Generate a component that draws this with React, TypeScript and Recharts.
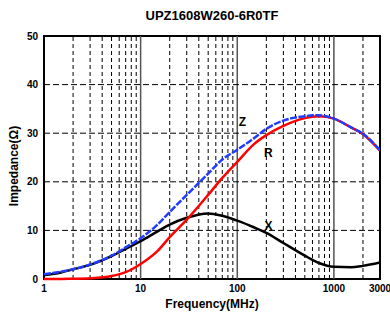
import React from 'react';
import { LineChart, Line, XAxis, YAxis, ReferenceLine, ReferenceArea, ReferenceDot } from 'recharts';

const freqs = [1, 1.5, 2, 3, 5, 7, 10, 15, 20, 30, 50, 70, 100, 150, 200, 300, 500, 700, 1000, 1500, 2000, 3000];
const zValues = [1.0, 1.5, 2.0, 3.0, 4.8, 6.5, 8.4, 11.2, 13.8, 17.3, 21.7, 24.6, 26.6, 29.0, 30.9, 32.6, 33.5, 33.7, 33.0, 31.2, 29.9, 26.5];
const rValues = [0.0, 0.02, 0.05, 0.15, 0.6, 1.4, 3.1, 5.8, 8.6, 12.2, 17.3, 20.8, 24.1, 27.8, 29.6, 31.5, 33.1, 33.5, 33.0, 31.2, 29.8, 26.4];
const xValues = [0.8, 1.35, 2.0, 2.9, 4.7, 6.2, 7.8, 9.8, 11.2, 12.6, 13.5, 13.0, 12.0, 10.6, 9.5, 7.4, 4.8, 3.3, 2.5, 2.4, 2.7, 3.4];

const xTicks = [1, 10, 100, 1000, 3000];
const yTicks = [0, 10, 20, 30, 40, 50];
const yMinorTicks = [0, 2, 4, 6, 8, 10, 12, 14, 16, 18, 20, 22, 24, 26, 28, 30, 32, 34, 36, 38, 40, 42, 44, 46, 48, 50];
const minorGrid = [2, 3, 4, 5, 6, 7, 8, 9, 20, 30, 40, 50, 60, 70, 80, 90, 200, 300, 400, 500, 600, 700, 800, 900, 2000];
const majorGrid = [10, 100, 1000];
const hGrid = [10, 20, 30, 40];

const annotations = [
    { text: 'Z', f: 113, v: 32.3 },
    { text: 'R', f: 210, v: 25.9 },
    { text: 'X', f: 210, v: 10.9 },
];

const data = freqs.map((f, i) => ({ f, z: zValues[i], r: rValues[i], x: xValues[i] }));

const FONT = '"Liberation Sans", Arial, sans-serif';
const tickStyle = { fontSize: 10, fontWeight: 700, fill: '#000', fontFamily: FONT };

export default function App() {
    return (
        <div style={{ position: 'absolute', left: 0, top: 0, width: 390, height: 316, background: '#fff', fontFamily: FONT }}>
            <div style={{ position: 'absolute', left: 62, top: 8, width: 300, textAlign: 'center', fontSize: 13, fontWeight: 700 }}>
                UPZ1608W260-6R0TF
            </div>
            <div style={{ position: 'absolute', left: 14, top: 166, transform: 'translate(-50%, -50%) rotate(-90deg)', whiteSpace: 'nowrap', fontSize: 12, fontWeight: 700 }}>
                Impedance(Ω)
            </div>
            <div style={{ position: 'absolute', left: 112, top: 297, width: 200, textAlign: 'center', fontSize: 12, fontWeight: 700 }}>
                Frequency(MHz)
            </div>
            <LineChart width={390} height={316} data={data} margin={{ top: 36, right: 10, bottom: 0, left: 0 }}>
                <XAxis
                    dataKey="f"
                    type="number"
                    scale="log"
                    domain={[1, 3000]}
                    ticks={xTicks}
                    allowDataOverflow
                    axisLine={false}
                    tickLine={false}
                    tickSize={0}
                    tickMargin={6}
                    tick={tickStyle}
                    interval={0}
                    height={37}
                />
                <YAxis
                    type="number"
                    domain={[0, 50]}
                    ticks={yTicks}
                    axisLine={false}
                    tickLine={false}
                    tickSize={0}
                    tickMargin={6}
                    tick={tickStyle}
                    interval={0}
                    width={44}
                />
                <YAxis
                    yAxisId="minor"
                    type="number"
                    domain={[0, 50]}
                    ticks={yMinorTicks}
                    mirror
                    axisLine={false}
                    tick={false}
                    tickSize={4}
                    tickLine={{ stroke: '#000', strokeWidth: 1 }}
                    interval={0}
                    width={0}
                />
                {minorGrid.map((v) => (
                    <ReferenceLine key={'mv' + v} x={v} stroke="#000" strokeWidth={1} strokeDasharray="4 3" />
                ))}
                {majorGrid.map((v) => (
                    <ReferenceLine key={'Mv' + v} x={v} stroke="#555" strokeWidth={1.5} />
                ))}
                {hGrid.map((v) => (
                    <ReferenceLine key={'h' + v} y={v} stroke="#000" strokeWidth={1} strokeDasharray="6 3" />
                ))}
                <ReferenceArea x1={1} x2={3000} y1={0} y2={50} fill="none" stroke="#000" strokeWidth={2} />
                <Line type="monotone" dataKey="x" stroke="#000" strokeWidth={2.5} dot={false} isAnimationActive={false} />
                <Line type="monotone" dataKey="r" stroke="#ff0000" strokeWidth={2.5} dot={false} isAnimationActive={false} />
                <Line type="monotone" dataKey="z" stroke="#1f3cff" strokeWidth={2.5} strokeDasharray="7 1.5" dot={false} isAnimationActive={false} />
                {annotations.map((a) => (
                    <ReferenceDot
                        key={a.text}
                        x={a.f}
                        y={a.v}
                        r={0}
                        stroke="none"
                        label={{ value: a.text, position: 'center', fontSize: 12, fontWeight: 700, fill: '#000', fontFamily: FONT }}
                    />
                ))}
            </LineChart>
        </div>
    );
}
